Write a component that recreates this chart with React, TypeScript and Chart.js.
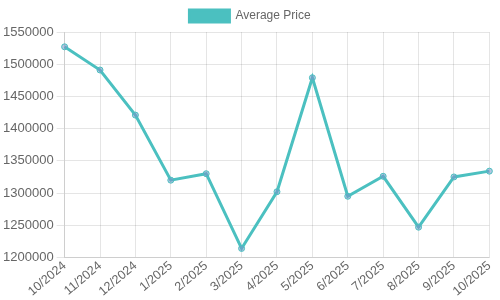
import React, { useEffect, useRef } from "react";
import { Chart, registerables } from "chart.js";

Chart.register(...registerables);

const labels = ["10/2024", "11/2024", "12/2024", "1/2025", "2/2025", "3/2025", "4/2025", "5/2025", "6/2025", "7/2025", "8/2025", "9/2025", "10/2025"];
const averagePrice = [1527000, 1491000, 1421000, 1320000, 1330000, 1214000, 1302000, 1479000, 1295000, 1326000, 1247000, 1325000, 1334000];
const seriesLabel = "Average Price";

export default function App() {
  const ref = useRef<HTMLCanvasElement | null>(null);
  useEffect(() => {
    document.body.style.margin = "0";
    if (!ref.current) return;
    Chart.defaults.font.family = "'Liberation Sans', Arial, sans-serif";
    Chart.defaults.font.size = 12;
    Chart.defaults.color = "#666";
    const chart = new Chart(ref.current, {
      type: "line",
      data: {
        labels,
        datasets: [
          {
            label: seriesLabel,
            data: averagePrice,
            borderColor: "#4BC0C0",
            backgroundColor: "#4BC0C0",
            pointBackgroundColor: "rgba(120,150,200,0.55)",
            pointBorderColor: "#4BC0C0",
            pointRadius: 3,
            pointBorderWidth: 1,
            borderWidth: 3,
            tension: 0,
            fill: false,
          },
        ],
      },
      options: {
        animation: false,
        responsive: false,
        maintainAspectRatio: false,
        plugins: {
          legend: { display: true, position: "top" },
          tooltip: { enabled: false },
        },
        scales: {
          x: {
            grid: { drawTicks: false },
            ticks: { maxRotation: 40, minRotation: 40, autoSkip: false, padding: 1, font: { size: 12.5 } },
          },
          y: {
            min: 1200000,
            max: 1550000,
            ticks: { stepSize: 50000, font: { size: 13 }, callback: (v: any) => String(v) },
          },
        },
      },
    });
    return () => chart.destroy();
  }, []);
  return <canvas ref={ref} width={500} height={300} style={{ display: "block" }} />;
}
